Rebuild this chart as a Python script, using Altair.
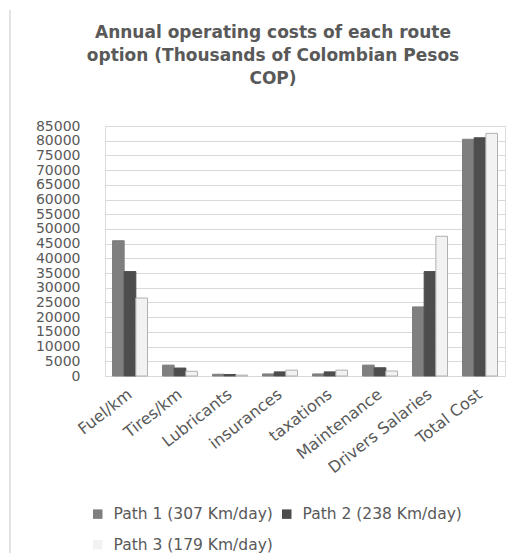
import altair as alt
import pandas as pd

# Cost categories and the annual cost of each route (thousands of COP)
categories = ["Fuel/km", "Tires/km", "Lubricants", "insurances", "taxations",
              "Maintenance", "Drivers Salaries", "Total Cost"]
series = ["Path 1 (307 Km/day)", "Path 2 (238 Km/day)", "Path 3 (179 Km/day)"]
path1 = [46000, 3700, 600, 700, 700, 3700, 23500, 80500]
path2 = [35500, 2700, 500, 1400, 1400, 2800, 35500, 81000]
path3 = [26500, 1600, 300, 2000, 2000, 1700, 47500, 82500]
y_ticks = list(range(0, 85001, 5000))

rows = []
for name, values in zip(series, [path1, path2, path3]):
    for cat, v in zip(categories, values):
        rows.append({"category": cat, "path": name, "cost": v})
df = pd.DataFrame(rows)

fills = ["#7f7f7f", "#4d4d4d", "#f2f2f2"]
strokes = ["#7f7f7f", "#4d4d4d", "#b0b0b0"]
text_color = "#595959"

bars = alt.Chart(df).mark_bar(strokeWidth=1).encode(
    x=alt.X("category:N", sort=categories, title=None,
            scale=alt.Scale(paddingInner=0.3, paddingOuter=0.15),
            axis=alt.Axis(labelAngle=-38, labelFont="DejaVu Sans", labelFontSize=16,
                          labelColor=text_color, ticks=False, domain=False,
                          labelPadding=16, labelAlign="right", labelBaseline="middle")),
    xOffset=alt.XOffset("path:N", sort=series),
    y=alt.Y("cost:Q", title=None,
            scale=alt.Scale(domain=[0, 85000], nice=False),
            axis=alt.Axis(values=y_ticks, format="d", labelFont="DejaVu Sans",
                          labelFontSize=14, labelColor=text_color, labelOverlap=False,
                          ticks=False, domain=False, labelPadding=25,
                          grid=True, gridColor="#d9d9d9", gridWidth=1.2)),
    color=alt.Color("path:N", sort=series,
                    scale=alt.Scale(domain=series, range=fills),
                    legend=alt.Legend(title=None, orient="none", legendX=-15, legendY=380,
                                      direction="horizontal", columns=2,
                                      symbolType="square", symbolSize=90,
                                      symbolStrokeWidth=0, labelFont="DejaVu Sans",
                                      labelFontSize=15.5, labelColor=text_color,
                                      labelOffset=8, columnPadding=6, rowPadding=14,
                                      padding=0)),
    stroke=alt.Stroke("path:N", sort=series,
                      scale=alt.Scale(domain=series, range=strokes), legend=None),
)

# thin frame line down the left edge of the figure
frame = alt.Chart(df).mark_rule(color="#e3e3e3", strokeWidth=1.5).encode(
    x=alt.value(-95), y=alt.value(-116), y2=alt.value(427)
)

# the frame line lifts the top of the layout bounds to -116, so the title
# offset is measured from there
chart = alt.layer(frame, bars).properties(
    width=400,
    height=250,
    title=alt.TitleParams(
        ["Annual operating costs of each route",
         "option (Thousands of Colombian Pesos",
         "COP)"],
        font="DejaVu Sans", fontSize=17, fontWeight="bold", color=text_color,
        lineHeight=23, anchor="middle", dx=-32, offset=-79),
    autosize=alt.AutoSizeParams(type="none"),
    padding={"left": 105, "top": 126, "right": 1, "bottom": 177},
).configure_view(stroke=None).configure(background="white")

chart.save("out.html", embed_options={"renderer": "svg", "actions": False})
